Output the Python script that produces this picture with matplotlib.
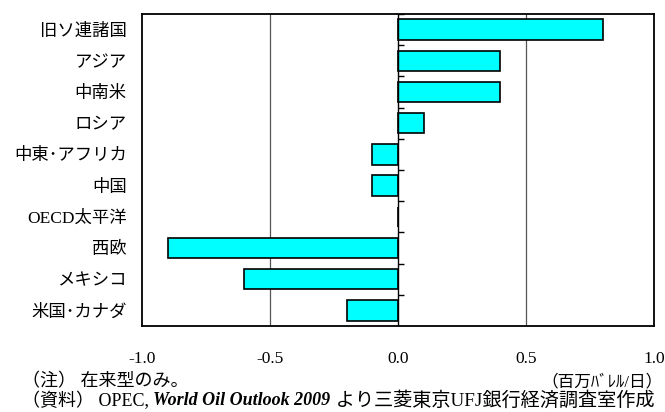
import matplotlib
matplotlib.use("Agg")
import matplotlib.pyplot as plt
import numpy as np

plt.rcParams['font.family'] = ['Liberation Serif', 'Noto Sans CJK JP', 'DejaVu Sans']

regions = ["旧ソ連諸国", "アジア", "中南米", "ロシア", "中東･アフリカ",
           "中国", "OECD太平洋", "西欧", "メキシコ", "米国･カナダ"]
change = [0.8, 0.4, 0.4, 0.1, -0.1, -0.1, 0.0, -0.9, -0.6, -0.2]
xticks = [-1.0, -0.5, 0.0, 0.5, 1.0]

fig = plt.figure(figsize=(6.65, 4.12), dpi=100)
ax = fig.add_axes([0.2135, 0.2087, 0.77, 0.7573])

y = np.arange(len(regions))
ax.barh(y, change, height=0.65, color="#00ffff", edgecolor="black", linewidth=1.2, zorder=3)

ax.set_xlim(-1.0, 1.0)
ax.set_ylim(len(regions) - 0.5, -0.5)
for gx in (-0.5, 0.5):
    ax.axvline(gx, color="#555555", linewidth=0.9, zorder=1)
ax.axvline(0, color="black", linewidth=1.0, zorder=4)
# short ticks on the zero line between categories
ax.hlines(np.arange(len(regions)) - 0.5, 0, 0.025, color="black", linewidth=1.0, zorder=4)

for s in ax.spines.values():
    s.set_linewidth(1.3)

ax.set_yticks(y)
ax.set_yticklabels(regions, fontsize=12.5)
ax.tick_params(axis="y", length=0, pad=11)
ax.set_xticks(xticks)
ax.set_xticklabels([f"{v:.1f}" for v in xticks], fontsize=12.5)
ax.tick_params(axis="x", length=0, pad=18)

fig.text(0.033, 0.073, "（注） 在来型のみ。", fontsize=13, va="center")
fig.text(0.997, 0.073, "（百万ﾊﾞﾚﾙ/日）", fontsize=12, va="center", ha="right")

src = fig.text(0.033, 0.027, "（資料） OPEC, ", fontsize=13, va="center")
book = plt.annotate("World Oil Outlook 2009", xy=(1, 0.5), xycoords=src, va="center",
                    fontsize=13, style="italic", weight="bold", annotation_clip=False)
plt.annotate(" より三菱東京UFJ銀行経済調査室作成", xy=(1, 0.5), xycoords=book, va="center",
             fontsize=13.8, annotation_clip=False)

fig.savefig("out.png", dpi=100)
